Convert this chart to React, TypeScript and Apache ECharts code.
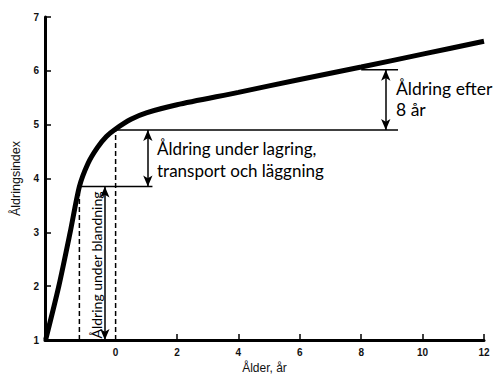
import React, { useEffect, useRef } from "react";
import * as echarts from "echarts";

// Curve: aging index vs age (years)
const ages = [-2.28, -1.85, -1.48, -1.18, -0.9, -0.6, -0.3, 0, 0.5, 1, 2, 4, 6, 8, 10, 12];
const agingIndex = [1.0, 2.0, 3.0, 3.85, 4.28, 4.57, 4.78, 4.92, 5.1, 5.22, 5.37, 5.6, 5.84, 6.07, 6.31, 6.55];

// Annotation levels and positions (data units)
const mixAge = -1.18;
const layAge = 0;
const levelMix = 3.85;
const levelLay = 4.9;
const level8 = 6.02;
const age8 = 8;
const lowerLineEnd = 1.2;
const upperLineEnd = 9.2;
const arrowMixAge = -0.35;
const arrowLayAge = 1.05;
const arrow8Age = 8.8;

const xTicks = [2, 4, 6, 8, 10, 12];
const xLabels = [0, 2, 4, 6, 8, 10, 12];

export default function App() {
  const ref = useRef<HTMLDivElement>(null);
  useEffect(() => {
    if (!ref.current) return;
    const chart = echarts.init(ref.current, undefined, { renderer: "svg" });
    const seg = (pts: number[][], dashed = false, width = 1.5) => ({
      type: "line",
      data: pts,
      symbol: "none",
      silent: true,
      lineStyle: { color: "#000", width, type: dashed ? [5, 3] : "solid" },
      z: 2,
    });
    chart.setOption({
      animation: false,
      backgroundColor: "#fff",
      grid: { left: 45, right: 16, top: 17, bottom: 42, containLabel: false },
      xAxis: {
        type: "value",
        min: -2.3,
        max: 12,
        name: "Ålder, år",
        nameLocation: "middle",
        nameGap: 22,
        nameTextStyle: { fontSize: 12, color: "#111", fontFamily: "Liberation Sans" },
        axisLine: { onZero: false, lineStyle: { color: "#000", width: 3 } },
        axisTick: { inside: true, length: 6, customValues: xTicks, lineStyle: { color: "#000", width: 1.5 } },
        axisLabel: { customValues: xLabels, fontSize: 10, fontWeight: "bold", color: "#111", margin: 7, fontFamily: "Liberation Sans" },
        splitLine: { show: false },
      },
      yAxis: {
        type: "value",
        min: 1,
        max: 7,
        interval: 1,
        name: "Åldringsindex",
        nameLocation: "middle",
        nameGap: 15,
        nameTextStyle: { fontSize: 12.5, color: "#111", fontFamily: "Liberation Sans" },
        axisLine: { show: true, onZero: false, lineStyle: { color: "#000", width: 3 } },
        axisTick: { show: true, inside: true, length: 6, lineStyle: { color: "#000", width: 1.5 } },
        axisLabel: { fontSize: 10, fontWeight: "bold", color: "#111", margin: 6, fontFamily: "Liberation Sans" },
        splitLine: { show: false },
      },
      series: [
        {
          type: "line",
          data: ages.map((a, i) => [a, agingIndex[i]]),
          smooth: 0.25,
          symbol: "none",
          lineStyle: { color: "#000", width: 5 },
          z: 5,
          markLine: {
            silent: true,
            symbol: ["arrow", "arrow"],
            symbolSize: [7, 11],
            label: { show: false },
            lineStyle: { color: "#000", width: 1.5, type: "solid" },
            data: [
              [{ coord: [arrowMixAge, 1] }, { coord: [arrowMixAge, levelMix] }],
              [{ coord: [arrowLayAge, levelMix] }, { coord: [arrowLayAge, levelLay] }],
              [{ coord: [arrow8Age, levelLay] }, { coord: [arrow8Age, level8] }],
            ],
          },
        },
        seg([[mixAge, 1], [mixAge, levelMix]], true),
        seg([[layAge, 1], [layAge, levelLay]], true),
        seg([[mixAge, levelMix], [lowerLineEnd, levelMix]]),
        seg([[layAge, levelLay], [upperLineEnd, levelLay]]),
        seg([[age8, level8], [upperLineEnd, level8]]),
      ],
      graphic: [
        {
          type: "text",
          x: 96,
          y: 265,
          rotation: Math.PI / 2,
          style: {
            text: "Åldring under blandning",
            fontSize: 14,
            fontFamily: "Lato",
            fill: "#000",
            align: "center",
            verticalAlign: "middle",
          },
        },
        {
          type: "text",
          x: 157,
          y: 137,
          style: {
            text: "Åldring under lagring,\ntransport och läggning",
            fontSize: 17,
            lineHeight: 22,
            fontFamily: "Lato",
            fill: "#000",
          },
        },
        {
          type: "text",
          x: 396,
          y: 78,
          style: {
            text: "Åldring efter\n8 år",
            fontSize: 17.5,
            lineHeight: 21,
            fontFamily: "Lato",
            fill: "#000",
          },
        },
      ],
    });
    return () => chart.dispose();
  }, []);
  return <div ref={ref} style={{ width: 500, height: 382, position: "absolute", left: 0, top: 0 }} />;
}
